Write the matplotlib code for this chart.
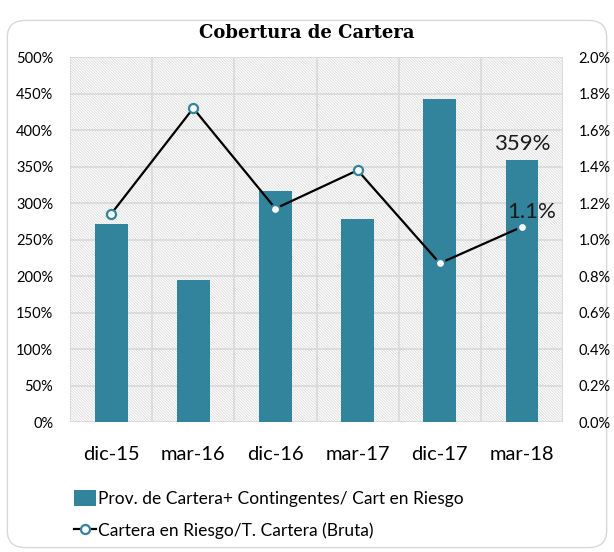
import matplotlib.pyplot as plt
from matplotlib.patches import Rectangle, FancyBboxPatch
from matplotlib.lines import Line2D
from matplotlib.ticker import FuncFormatter

plt.rcParams["hatch.linewidth"] = 0.6

categories = ["dic-15", "mar-16", "dic-16", "mar-17", "dic-17", "mar-18"]
cobertura = [272, 195, 316, 278, 442, 359]          # % (left axis)
riesgo = [1.14, 1.72, 1.17, 1.38, 0.87, 1.07]       # % (right axis)

TEAL = "#31849B"
GRID = "#d9d9d9"
FONT = "Lato"


def main():
    fig = plt.figure(figsize=(6.14, 5.52), dpi=100, facecolor="white")

    # rounded chart border
    border = FancyBboxPatch((0.012, 0.008), 0.976, 0.955,
                            boxstyle="round,pad=0,rounding_size=0.03",
                            transform=fig.transFigure, facecolor="none",
                            edgecolor="#d9d9d9", linewidth=1.0, zorder=-10)
    fig.patches.append(border)

    ax = fig.add_axes([0.114, 0.2355, 0.803, 0.661])
    ax.set_facecolor("none")
    x = list(range(len(categories)))

    # hatched background
    ax.add_patch(Rectangle((0, 0), 1, 1, transform=ax.transAxes,
                           facecolor="white", edgecolor="#dadada",
                           hatch="\\" * 12, linewidth=0, zorder=0))

    ax.bar(x, cobertura, width=0.4, color=TEAL, zorder=3)
    ax.set_xlim(-0.5, len(categories) - 0.5)
    ax.set_ylim(0, 500)
    ax.set_yticks(range(0, 501, 50))
    ax.yaxis.set_major_formatter(FuncFormatter(lambda v, p: f"{v:.0f}%"))
    ax.set_xticks(x)
    ax.set_xticklabels(categories, fontsize=14.5, family=FONT)
    for lab in ax.get_yticklabels():
        lab.set_family(FONT)
        lab.set_fontsize(10.5)

    # grid
    for v in range(50, 501, 50):
        ax.axhline(v, color=GRID, linewidth=1.2, zorder=1)
    for b in [i + 0.5 for i in range(-1, len(categories))]:
        ax.axvline(b, color=GRID, linewidth=1.2, zorder=1)
    ax.axhline(0, color=GRID, linewidth=1.2, zorder=1)

    for s in ax.spines.values():
        s.set_visible(False)
    ax.tick_params(axis="both", length=0)
    ax.tick_params(axis="x", pad=17)
    ax.tick_params(axis="y", pad=12)

    ax.text(x[-1], cobertura[-1] + 8, f"{cobertura[-1]:.0f}%", ha="center",
            va="bottom", fontsize=16, family=FONT, color="#1a1a1a", zorder=5)

    ax2 = ax.twinx()
    ax2.set_ylim(0, 2.0)
    ax2.set_yticks([i * 0.2 for i in range(11)])
    ax2.yaxis.set_major_formatter(FuncFormatter(lambda v, p: f"{v:.1f}%"))
    for lab in ax2.get_yticklabels():
        lab.set_family(FONT)
        lab.set_fontsize(10.5)
    for s in ax2.spines.values():
        s.set_visible(False)
    ax2.tick_params(axis="y", length=0, pad=11)
    ax2.plot(x, riesgo, color="black", linewidth=1.6, marker="o",
             markersize=6.5, markerfacecolor="white", markeredgecolor=TEAL,
             markeredgewidth=1.6, zorder=4)
    ax2.text(x[-1] + 0.12, riesgo[-1] + 0.025, f"{riesgo[-1]:.1f}%", ha="center",
             va="bottom", fontsize=16, family=FONT, color="#1a1a1a", zorder=5)

    fig.text(0.5, 0.94, "Cobertura de Cartera", ha="center", va="center",
             fontsize=13, fontweight="bold", family="DejaVu Serif")

    handles = [
        Rectangle((0, 0), 1, 1, facecolor=TEAL),
        Line2D([0], [0], color="black", linewidth=1.6, marker="o",
               markersize=6.5, markerfacecolor="white", markeredgecolor=TEAL,
               markeredgewidth=1.6),
    ]
    labels = ["Prov. de Cartera+ Contingentes/ Cart en Riesgo",
              "Cartera en Riesgo/T. Cartera (Bruta)"]
    fig.legend(handles, labels, loc="upper left", bbox_to_anchor=(0.12, 0.112),
               frameon=False, prop={"family": FONT, "size": 12.5},
               handlelength=1.3, handleheight=1.0, handletextpad=0.1,
               labelspacing=0.9, borderaxespad=0, borderpad=0)

    fig.savefig("out.png", dpi=100)


if __name__ == "__main__":
    main()
